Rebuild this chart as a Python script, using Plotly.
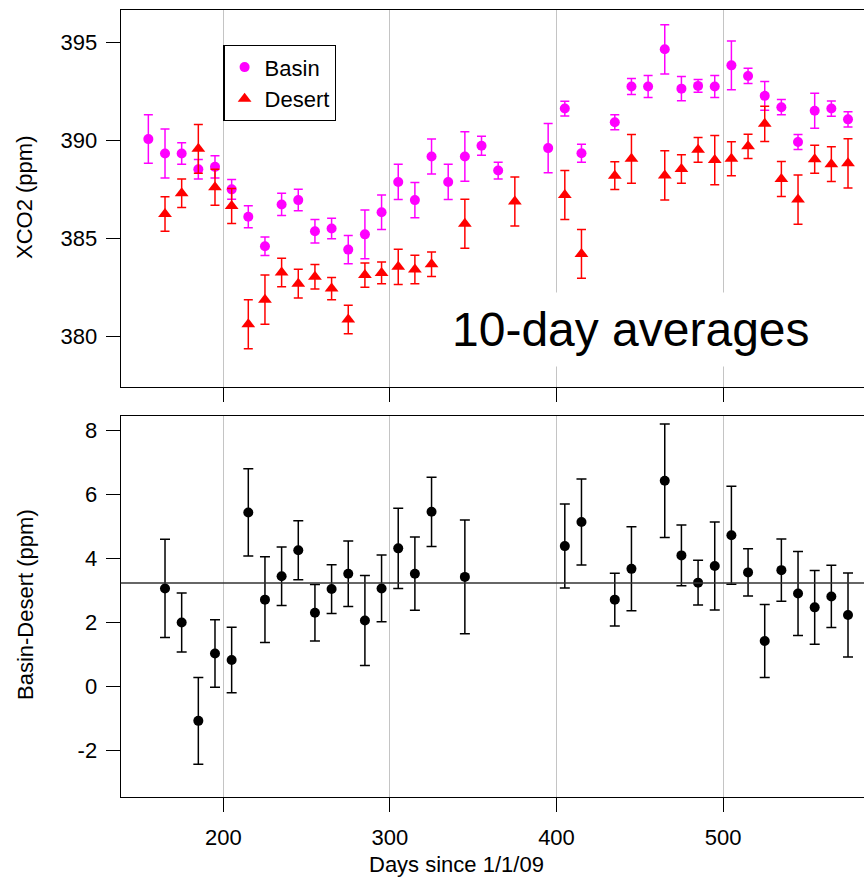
import plotly.graph_objects as go

# ---------------- data ----------------
days_basin = [155, 165, 175, 185, 195, 205, 215, 225, 235, 245, 255, 265, 275, 285, 295,
              305, 315, 325, 335, 345, 355, 365, 395, 405, 415, 435, 445, 455, 465, 475,
              485, 495, 505, 515, 525, 535, 545, 555, 565, 575]
basin = [390.07, 389.33, 389.33, 388.53, 388.65, 387.5, 386.1, 384.59, 386.73, 386.95,
         385.36, 385.5, 384.42, 385.2, 386.33, 387.88, 386.95, 389.18, 387.88, 389.18,
         389.73, 388.46, 389.61, 391.63, 389.35, 390.93, 392.76, 392.76, 394.66, 392.65,
         392.79, 392.76, 393.84, 393.3, 392.28, 391.7, 389.92, 391.52, 391.63, 391.08]
basin_err = [1.24, 1.25, 0.55, 0.5, 0.57, 0.5, 0.56, 0.47, 0.57, 0.55,
             0.6, 0.52, 0.72, 1.25, 0.88, 0.9, 0.9, 0.89, 0.9, 1.26,
             0.48, 0.43, 1.26, 0.38, 0.46, 0.38, 0.41, 0.56, 1.26, 0.62,
             0.33, 0.56, 1.25, 0.39, 0.74, 0.39, 0.38, 0.89, 0.39, 0.39]

days_desert = [165, 175, 185, 195, 205, 215, 225, 235, 245, 255, 265, 275, 285, 295, 305,
               315, 325, 345, 375, 405, 415, 435, 445, 465, 475, 485, 495, 505, 515, 525,
               535, 545, 555, 565, 575]
desert = [386.24, 387.3, 389.57, 387.61, 386.65, 380.6, 381.86, 383.25, 382.68, 383.03,
          382.43, 380.85, 383.12, 383.23, 383.54, 383.4, 383.67, 385.74, 386.88, 387.21,
          384.2, 388.2, 389.06, 388.21, 388.54, 389.52, 389.0, 389.06, 389.7, 390.85,
          388.03, 386.98, 389.04, 388.79, 388.83]
desert_err = [0.88, 0.73, 1.25, 0.92, 0.89, 1.25, 1.26, 0.73, 0.74, 0.63,
              0.57, 0.73, 0.62, 0.56, 0.9, 0.73, 0.63, 1.25, 1.25, 1.25,
              1.25, 0.71, 1.25, 1.26, 0.73, 0.63, 1.26, 0.87, 0.62, 0.9,
              0.89, 1.26, 0.72, 0.89, 1.26]

days_diff = [165, 175, 185, 195, 205, 215, 225, 235, 245, 255, 265, 275, 285, 295, 305,
             315, 325, 345, 405, 415, 435, 445, 465, 475, 485, 495, 505, 515, 525, 535,
             545, 555, 565, 575]
diff = [3.06, 2.0, -1.07, 1.03, 0.83, 5.43, 2.71, 3.44, 4.25, 2.3,
        3.04, 3.52, 2.06, 3.06, 4.31, 3.52, 5.45, 3.42, 4.38, 5.13,
        2.71, 3.67, 6.42, 4.09, 3.24, 3.76, 4.72, 3.56, 1.42, 3.63,
        2.9, 2.47, 2.81, 2.23]
diff_err = [1.53, 0.92, 1.35, 1.05, 1.02, 1.36, 1.34, 0.91, 0.92, 0.88,
            0.76, 1.02, 1.4, 1.04, 1.25, 1.14, 1.08, 1.77, 1.31, 1.34,
            0.82, 1.31, 1.77, 0.95, 0.7, 1.37, 1.53, 0.74, 1.14, 0.97,
            1.31, 1.15, 0.97, 1.31]
diff_mean = 3.23

x_ticks = [200, 300, 400, 500]
x_ticktext = ["200", "300", "400", "500"]
top_ticks = [380, 385, 390, 395]
top_ticktext = ["380", "385", "390", "395"]
bottom_ticks = [-2, 0, 2, 4, 6, 8]
bottom_ticktext = ["-2", "0", "2", "4", "6", "8"]

# ---------------- layout helpers (page pixel -> paper) ----------------
W, H = 864, 877
FONT = "Liberation Sans, Arial, sans-serif"
def px_x(p):
    return p / W
def px_y(p):
    return 1 - p / H

fig = go.Figure()

fig.add_trace(go.Scatter(
    x=days_basin, y=basin, mode="markers", name="Basin",
    marker=dict(symbol="circle", size=10, color="#FF00FF"),
    error_y=dict(type="data", array=basin_err, color="#FF00FF", thickness=1.5, width=4.5),
    xaxis="x", yaxis="y"))
fig.add_trace(go.Scatter(
    x=days_desert, y=desert, mode="markers", name="Desert",
    marker=dict(symbol="triangle-up", size=12, color="#FF0000"),
    error_y=dict(type="data", array=desert_err, color="#FF0000", thickness=1.5, width=4.5),
    xaxis="x", yaxis="y"))
fig.add_trace(go.Scatter(
    x=days_diff, y=diff, mode="markers", name="Basin-Desert", showlegend=False,
    marker=dict(symbol="circle", size=10, color="black"),
    error_y=dict(type="data", array=diff_err, color="black", thickness=1.5, width=5),
    xaxis="x2", yaxis="y2"))

xcommon = dict(range=[138.4, 584.6], tickvals=x_ticks, ticktext=x_ticktext,
               showgrid=True, gridcolor="#C4C4C4",
               gridwidth=1, zeroline=False, showline=True, linecolor="black", linewidth=1.3,
               mirror=True, ticks="outside", ticklen=14, tickwidth=1.2, tickcolor="black",
               tickfont=dict(family=FONT, size=22, color="black"),
               domain=[px_x(120.7), 1.0])
ycommon = dict(showgrid=False, zeroline=False, showline=True, linecolor="black", linewidth=1.3,
               mirror=False, ticks="outside", ticklen=14, tickwidth=1.2, tickcolor="black",
               tickfont=dict(family=FONT, size=22, color="black"), ticklabelstandoff=4)

fig.update_layout(
    width=W, height=H,
    margin=dict(l=0, r=0, t=0, b=0),
    paper_bgcolor="white", plot_bgcolor="white",
    font=dict(family=FONT, size=22, color="black"),
    xaxis=dict(**xcommon, anchor="y", showticklabels=False),
    yaxis=dict(**ycommon, range=[377.38, 396.67], tickvals=top_ticks, ticktext=top_ticktext,
               domain=[px_y(387.3), px_y(10)], anchor="x"),
    xaxis2=dict(**xcommon, anchor="y2", showticklabels=True, ticklabelstandoff=7),
    yaxis2=dict(**ycommon, range=[-3.435, 8.437], tickvals=bottom_ticks,
                ticktext=bottom_ticktext,
                domain=[px_y(796.7), px_y(416)], anchor="x2"),
    legend=dict(x=px_x(223.3), y=px_y(45), xanchor="left", yanchor="top",
                bordercolor="black", borderwidth=1.3, bgcolor="white",
                font=dict(family=FONT, size=22, color="black"),
                tracegroupgap=0, itemsizing="trace"),
    showlegend=True,
)

fig.add_shape(type="line", xref="x2 domain", yref="y2", x0=0, x1=1,
              y0=diff_mean, y1=diff_mean, line=dict(color="#333333", width=1.5))

fig.add_annotation(text="10-day averages", xref="paper", yref="paper",
                   x=px_x(631), y=px_y(329), xanchor="center", yanchor="middle",
                   showarrow=False, bgcolor="white", borderpad=10,
                   font=dict(family=FONT, size=48, color="black"))

fig.add_annotation(text="XCO2 (ppm)", xref="paper", yref="paper",
                   x=px_x(25), y=px_y(198), xanchor="center", yanchor="middle",
                   textangle=-90, showarrow=False, font=dict(family=FONT, size=22))
fig.add_annotation(text="Basin-Desert (ppm)", xref="paper", yref="paper",
                   x=px_x(25), y=px_y(605), xanchor="center", yanchor="middle",
                   textangle=-90, showarrow=False, font=dict(family=FONT, size=22))
fig.add_annotation(text="Days since 1/1/09", xref="paper", yref="paper",
                   x=px_x(456), y=px_y(864), xanchor="center", yanchor="middle",
                   showarrow=False, font=dict(family=FONT, size=22))

# remove the default page margin so the figure fills the window exactly
fig.write_html("out.html",
               config={"displayModeBar": False},
               post_script="document.body.style.margin='0px';"
                           "document.body.style.overflow='hidden';")
